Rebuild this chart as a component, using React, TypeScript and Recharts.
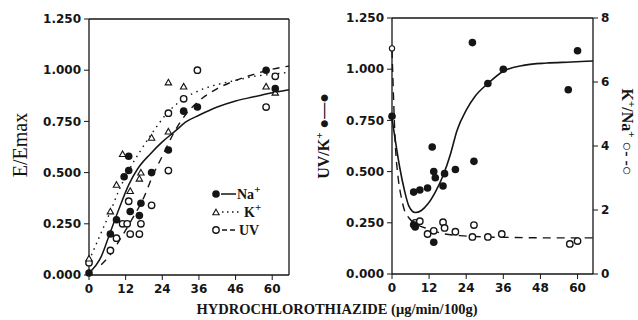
import React from "react";
import { ComposedChart, Scatter, Line, XAxis, YAxis, ReferenceLine } from "recharts";

// Left panel: E/Emax vs dose, three measures.
const naPoints = [
  [0, 0.01], [7, 0.2], [9, 0.27], [11.5, 0.48], [13, 0.51], [13, 0.58], [13.5, 0.31],
  [16.5, 0.29], [17, 0.35], [20.5, 0.5], [26, 0.61], [31, 0.8], [35.5, 0.82], [58, 1.0], [61, 0.91],
];
const kPoints = [
  [0, 0.08], [7, 0.31], [9, 0.44], [11, 0.59], [13.5, 0.41], [16.5, 0.47], [17, 0.5],
  [20.5, 0.67], [26, 0.7], [26, 0.94], [31, 0.92], [58, 0.92], [61, 0.89],
];
const uvPoints = [
  [0, 0.06], [7, 0.12], [9, 0.18], [11, 0.25], [12.5, 0.25], [13, 0.36], [13.5, 0.2],
  [16.5, 0.2], [17, 0.25], [20.5, 0.34], [26, 0.51], [26, 0.79], [31, 0.86], [35.5, 1.0],
  [58, 0.82], [61, 0.97],
];
const naCurve = [
  [0, 0.01], [4, 0.09], [7, 0.21], [10, 0.33], [13, 0.44], [16, 0.52], [20, 0.59], [24, 0.65],
  [28, 0.7], [32, 0.75], [36, 0.78], [42, 0.82], [48, 0.85], [54, 0.87], [60, 0.89], [65.5, 0.905],
];
const kCurve = [
  [0, 0.07], [3.5, 0.19], [7, 0.31], [10, 0.42], [13, 0.51], [17, 0.61], [21, 0.7], [25, 0.78],
  [30, 0.85], [36, 0.9], [42, 0.93], [48, 0.95], [54, 0.97], [60, 0.98], [65.5, 0.99],
];
const uvCurve = [
  [4, 0.05], [7, 0.1], [10, 0.17], [14, 0.27], [18, 0.38], [21, 0.49], [24, 0.58], [28, 0.7],
  [32, 0.79], [36, 0.85], [42, 0.91], [48, 0.95], [54, 0.98], [60, 1.005], [65.5, 1.02],
];

// Right panel: UV/K+ (left axis) and K+/Na+ (right axis).
const uvkPoints = [
  [0, 0.77], [7, 0.4], [9, 0.41], [11.5, 0.42], [13, 0.62], [13.5, 0.5], [14, 0.47], [16.5, 0.43],
  [17, 0.49], [20.5, 0.51], [26, 1.13], [26.5, 0.55], [31, 0.93], [36, 1.0], [57, 0.9], [60, 1.09],
  [7, 0.24], [7.5, 0.23], [13.5, 0.155],
];
const knaPoints = [
  [7.5, 1.6], [9, 1.65], [11.5, 1.25], [13.5, 1.35], [16.5, 1.62], [17, 1.44],
  [20.5, 1.32], [26, 1.16], [26.5, 1.53], [31, 1.16], [35.5, 1.25], [57.5, 0.94], [60, 1.03],
];
const knaFirst = [[0, 7.05]];
const uvkCurve = [
  [0, 0.76], [1, 0.66], [2.5, 0.52], [4, 0.41], [5.5, 0.33], [7.5, 0.3], [9.5, 0.31], [11.5, 0.34],
  [14, 0.4], [16.5, 0.48], [19, 0.59], [21, 0.7], [24, 0.8], [27, 0.87], [31, 0.93], [36, 0.99],
  [43, 1.02], [50, 1.03], [58, 1.035], [65, 1.04],
];
const knaCurve = [
  [0, 7.0], [0.5, 5.5], [1, 4.2], [2, 3.0], [3, 2.4], [4, 2.0], [5.5, 1.75], [8, 1.55], [12, 1.4],
  [16, 1.27], [22, 1.2], [30, 1.16], [40, 1.14], [50, 1.13], [65, 1.13],
];

const doseTicks = [0, 12, 24, 36, 48, 60];
const eTicks = [0, 0.25, 0.5, 0.75, 1.0, 1.25];
const ratioTicks = [0, 2, 4, 6, 8];

const pts = (a: number[][]) => a.map(([x, y]) => ({ x, y }));

const INK = "#151515";
const tickFont = { fill: INK, fontSize: 12, fontFamily: "DejaVu Sans", fontWeight: 700 };
const serif = "Liberation Serif";

const FilledDot = (p: any) => <circle cx={p.cx} cy={p.cy} r={3.8} fill={INK} />;
const OpenDot = (p: any) => (
  <circle cx={p.cx} cy={p.cy} r={3.2} fill="#fff" stroke={INK} strokeWidth={1.4} />
);
const SmallOpenDot = (p: any) => (
  <circle cx={p.cx} cy={p.cy} r={2.6} fill="#fff" stroke={INK} strokeWidth={1.1} />
);
const Tri = (p: any) => (
  <path
    d={`M${p.cx},${p.cy - 3.2}L${p.cx + 3.2},${p.cy + 2.4}L${p.cx - 3.2},${p.cy + 2.4}Z`}
    fill="#fff"
    stroke={INK}
    strokeWidth={1.1}
  />
);

function LeftPanel() {
  return (
    <ComposedChart width={300} height={320} margin={{ top: 19, right: 11, bottom: 0, left: 0 }}>
      <XAxis
        type="number"
        dataKey="x"
        domain={[0, 65.5]}
        ticks={doseTicks}
        tickFormatter={(v) => (v === 48 ? "46" : String(v))}
        height={45}
        tick={tickFont}
        tickSize={5}
        tickMargin={4}
        tickLine={{ stroke: INK }}
        axisLine={{ stroke: INK, strokeWidth: 1.3 }}
      />
      <YAxis
        type="number"
        dataKey="y"
        domain={[0, 1.25]}
        ticks={eTicks}
        tickFormatter={(v) => v.toFixed(3)}
        width={89}
        tick={tickFont}
        tickSize={5}
        tickMargin={3}
        tickLine={{ stroke: INK }}
        axisLine={{ stroke: INK, strokeWidth: 1.3 }}
      />
      <ReferenceLine y={1.25} stroke={INK} strokeWidth={1.3} />
      <ReferenceLine x={65.5} stroke={INK} strokeWidth={1.3} />
      <Line data={pts(naCurve)} dataKey="y" type="monotone" stroke={INK} strokeWidth={1.5} dot={false} isAnimationActive={false} />
      <Line data={pts(kCurve)} dataKey="y" type="monotone" stroke={INK} strokeWidth={1.4} strokeDasharray="1.5 4.5" dot={false} isAnimationActive={false} />
      <Line data={pts(uvCurve)} dataKey="y" type="monotone" stroke={INK} strokeWidth={1.4} strokeDasharray="7 6" dot={false} isAnimationActive={false} />
      <Scatter data={pts(uvPoints)} dataKey="y" shape={OpenDot} isAnimationActive={false} />
      <Scatter data={pts(kPoints)} dataKey="y" shape={Tri} isAnimationActive={false} />
      <Scatter data={pts(naPoints)} dataKey="y" shape={FilledDot} isAnimationActive={false} />
    </ComposedChart>
  );
}

function RightPanel() {
  return (
    <ComposedChart width={338} height={320} margin={{ top: 18, right: 0, bottom: 0, left: 0 }}>
      <XAxis
        type="number"
        dataKey="x"
        domain={[0, 64.5]}
        ticks={doseTicks}
        height={46}
        tick={tickFont}
        tickSize={5}
        tickMargin={4}
        tickLine={{ stroke: INK }}
        axisLine={{ stroke: INK, strokeWidth: 1.3 }}
      />
      <YAxis
        yAxisId="l"
        type="number"
        dataKey="y"
        domain={[0, 1.25]}
        ticks={eTicks}
        tickFormatter={(v) => v.toFixed(3)}
        width={92}
        tick={tickFont}
        tickSize={5}
        tickMargin={3}
        tickLine={{ stroke: INK }}
        axisLine={{ stroke: INK, strokeWidth: 1.3 }}
      />
      <YAxis
        yAxisId="r"
        orientation="right"
        type="number"
        dataKey="y"
        domain={[0, 8]}
        ticks={ratioTicks}
        width={45}
        tick={tickFont}
        tickSize={5}
        tickMargin={3}
        tickLine={{ stroke: INK }}
        axisLine={{ stroke: INK, strokeWidth: 1.3 }}
      />
      <ReferenceLine yAxisId="l" y={1.25} stroke={INK} strokeWidth={1.3} />
      <Line yAxisId="l" data={pts(uvkCurve)} dataKey="y" type="monotone" stroke={INK} strokeWidth={1.6} dot={false} isAnimationActive={false} />
      <Line yAxisId="r" data={pts(knaCurve)} dataKey="y" type="monotone" stroke={INK} strokeWidth={1.4} strokeDasharray="8 6" dot={false} isAnimationActive={false} />
      <Scatter yAxisId="r" data={pts(knaPoints)} dataKey="y" shape={OpenDot} isAnimationActive={false} />
      <Scatter yAxisId="r" data={pts(knaFirst)} dataKey="y" shape={SmallOpenDot} isAnimationActive={false} />
      <Scatter yAxisId="l" data={pts(uvkPoints)} dataKey="y" shape={FilledDot} isAnimationActive={false} />
    </ComposedChart>
  );
}

function Titles() {
  return (
    <svg width={638} height={320} style={{ position: "absolute", left: 0, top: 0, pointerEvents: "none" }}>
      <g fontFamily={serif} fill={INK}>
        <text x={337} y={314} textAnchor="middle" fontSize={14.5} fontWeight={700}>
          HYDROCHLOROTHIAZIDE (μg/min/100g)
        </text>
        <text x={27} y={145} textAnchor="middle" fontSize={20} transform="rotate(-90 27 145)">
          E/Emax
        </text>
        <text x={329} y={136} textAnchor="middle" fontSize={16} fontWeight={700} transform="rotate(-90 329 136)">
          UV/K<tspan dy={-6} fontSize={11}>+</tspan>
          <tspan dy={6}> ●—●</tspan>
        </text>
        <text x={622} y={132} textAnchor="middle" fontSize={16} fontWeight={700} transform="rotate(90 622 132)">
          K<tspan dy={-6} fontSize={11}>+</tspan>
          <tspan dy={6}>/Na</tspan>
          <tspan dy={-6} fontSize={11}>+</tspan>
          <tspan dy={6}> ○- -○</tspan>
        </text>
      </g>
      <g fontFamily={serif} fill={INK} fontSize={14} fontWeight={700}>
        <circle cx={216} cy={194} r={3.8} fill={INK} />
        <line x1={221} y1={194} x2={236} y2={194} stroke={INK} strokeWidth={1.5} />
        <text x={237} y={199}>
          Na<tspan dy={-6} fontSize={11}>+</tspan>
        </text>
        <path d="M216,209.2L219.2,214.8L212.8,214.8Z" fill="#fff" stroke={INK} strokeWidth={1.1} />
        <line x1={222} y1={212} x2={242} y2={212} stroke={INK} strokeWidth={1.4} strokeDasharray="1.5 3.5" />
        <text x={244} y={217}>
          K<tspan dy={-6} fontSize={11}>+</tspan>
        </text>
        <circle cx={216} cy={230} r={3.2} fill="#fff" stroke={INK} strokeWidth={1.4} />
        <line x1={222} y1={230} x2={238} y2={230} stroke={INK} strokeWidth={1.4} strokeDasharray="5 3" />
        <text x={239} y={235}>UV</text>
      </g>
    </svg>
  );
}

export default function App() {
  return (
    <div style={{ position: "absolute", left: 0, top: 0, width: 638, height: 320, background: "#fff" }}>
      <div style={{ position: "absolute", left: 0, top: 0 }}>
        <LeftPanel />
      </div>
      <div style={{ position: "absolute", left: 300, top: 0 }}>
        <RightPanel />
      </div>
      <Titles />
    </div>
  );
}
